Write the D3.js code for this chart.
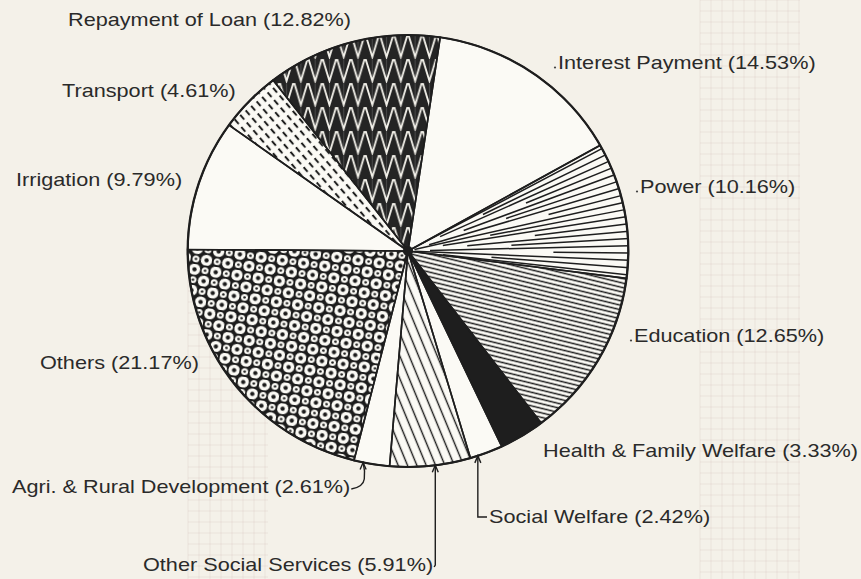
<!DOCTYPE html>
<html>
<head>
<meta charset="utf-8">
<script src="https://cdn.jsdelivr.net/npm/d3@7"></script>
<style>
  body { margin: 0; background: #f4f1e9; }
  svg { display: block; }
  .lbl { font-family: "Liberation Sans", Arial, sans-serif; font-size: 19px; fill: #2a2a2a; }
</style>
</head>
<body>
<svg id="chart" width="861" height="579"></svg>
<script>
// expenditure heads, clockwise from just right of 12 o'clock
const categories = [
  "Interest Payment", "Power", "Education", "Health & Family Welfare",
  "Social Welfare", "Other Social Services", "Agri. & Rural Development",
  "Others", "Irrigation", "Transport", "Repayment of Loan"
];
// share of total (%)
const shares = [14.53, 10.16, 12.65, 3.33, 2.42, 5.91, 2.61, 21.17, 9.79, 4.61, 12.82];

const ink = "#1e1e1e";
const paper = "#fbfaf5";

// which fill each slice gets
const fillFor = {
  "Interest Payment": paper,
  "Power": paper,
  "Education": "url(#hatchEdu)",
  "Health & Family Welfare": ink,
  "Social Welfare": paper,
  "Other Social Services": "url(#hatchOss)",
  "Agri. & Rural Development": paper,
  "Others": "url(#mesh)",
  "Irrigation": paper,
  "Transport": "url(#dashes)",
  "Repayment of Loan": "url(#zigzag)"
};

// label placement: x start, baseline, leading dot, leader (fraction along the slice)
const labelPos = {
  "Repayment of Loan": { x: 68, y: 26 },
  "Interest Payment": { x: 558, y: 69, dot: true },
  "Power": { x: 640, y: 193, dot: true },
  "Education": { x: 634, y: 342, dot: true },
  "Health & Family Welfare": { x: 543, y: 457 },
  "Social Welfare": { x: 489, y: 523, leader: "elbowRight", at: 0.77 },
  "Other Social Services": { x: 143, y: 571, leader: "elbowLeft", at: 0.44 },
  "Agri. & Rural Development": { x: 12, y: 493, leader: "curve", at: 0.74 },
  "Others": { x: 40, y: 369 },
  "Irrigation": { x: 16, y: 186 },
  "Transport": { x: 62, y: 97 }
};

const cx = 408, cy = 251, R = 216, sx = 1.02;
const startDeg = 8.4;

const svg = d3.select("#chart");
const defs = svg.append("defs");

// faint graph paper showing through the page
function ghostGrid(x0, y0, w, h) {
  const gg = svg.append("g").attr("stroke", "rgba(185,150,150,0.16)").attr("stroke-width", 1);
  for (let x = x0; x <= x0 + w; x += 11) gg.append("line").attr("x1", x).attr("x2", x).attr("y1", y0).attr("y2", y0 + h);
  for (let y = y0; y <= y0 + h; y += 11) gg.append("line").attr("x1", x0).attr("x2", x0 + w).attr("y1", y).attr("y2", y);
}
ghostGrid(188, 280, 80, 299);
ghostGrid(700, 0, 100, 579);

// parallel hatching, lines run along the rotated vertical
function hatch(id, spacing, len, angle, sw, dash) {
  const p = defs.append("pattern").attr("id", id)
    .attr("patternUnits", "userSpaceOnUse")
    .attr("width", spacing).attr("height", len)
    .attr("patternTransform", `rotate(${angle})`);
  p.append("rect").attr("width", spacing).attr("height", len).attr("fill", paper);
  p.append("line")
    .attr("x1", spacing / 2).attr("x2", spacing / 2)
    .attr("y1", 0).attr("y2", len)
    .attr("stroke", ink).attr("stroke-width", sw)
    .attr("stroke-dasharray", dash || null);
}
hatch("hatchEdu", 4.4, 10, -76, 1.5);
hatch("hatchOss", 8.5, 10, -22, 1.4);
hatch("dashes", 7, 10, -40, 2, "6,4");

// dark fill with white chevron columns
const zz = defs.append("pattern").attr("id", "zigzag")
  .attr("patternUnits", "userSpaceOnUse").attr("width", 14).attr("height", 24);
zz.append("rect").attr("width", 14).attr("height", 24).attr("fill", "#242424");
zz.append("line").attr("x1", 7).attr("x2", 7).attr("y1", 0).attr("y2", 24)
  .attr("stroke", "#4a4a4a").attr("stroke-width", 1);
zz.append("path").attr("d", "M0.5,0 L7,22 L13.5,0")
  .attr("fill", "none").attr("stroke", "#f3f1ea").attr("stroke-width", 1.8);

// black mesh with white rings round dots
const mesh = defs.append("pattern").attr("id", "mesh")
  .attr("patternUnits", "userSpaceOnUse").attr("width", 21).attr("height", 21)
  .attr("patternTransform", "rotate(8)");
mesh.append("rect").attr("width", 21).attr("height", 21).attr("fill", "#1c1c1c");
[[5.25, 5.25, 5.6], [15.75, 15.75, 5.6], [15.75, 5.25, 3.4], [5.25, 15.75, 3.4]].forEach(([x, y, r]) => {
  mesh.append("circle").attr("cx", x).attr("cy", y).attr("r", r).attr("fill", paper);
  mesh.append("circle").attr("cx", x).attr("cy", y).attr("r", r * 0.38).attr("fill", "#1c1c1c");
});

const pie = d3.pie().sort(null).value(d => d.v)
  .startAngle(startDeg * Math.PI / 180)
  .endAngle(startDeg * Math.PI / 180 + 2 * Math.PI);
const arcs = pie(categories.map((c, i) => ({ c: c, v: shares[i] })));
const arc = d3.arc().innerRadius(0).outerRadius(R);

const g = svg.append("g").attr("transform", `translate(${cx},${cy}) scale(${sx},1)`);

g.selectAll("path.slice")
  .data(arcs)
  .join("path")
  .attr("class", "slice")
  .attr("d", arc)
  .attr("fill", d => fillFor[d.data.c]);

// power: fan of lines out from the centre
const power = arcs.find(d => d.data.c === "Power");
g.append("clipPath").attr("id", "powerClip").append("path").attr("d", arc(power));
const span = power.endAngle - power.startAngle;
const nFan = Math.round(span / (1.9 * Math.PI / 180));
const starts = [0.03, 0.38, 0.16, 0.58, 0.27, 0.47, 0.1, 0.66];
const fan = g.append("g").attr("clip-path", "url(#powerClip)");
d3.range(nFan).forEach(i => {
  const a = power.startAngle + (i + 0.5) * span / nFan;
  const r0 = R * starts[i % starts.length];
  fan.append("line")
    .attr("x1", r0 * Math.sin(a)).attr("y1", -r0 * Math.cos(a))
    .attr("x2", (R + 2) * Math.sin(a)).attr("y2", -(R + 2) * Math.cos(a))
    .attr("stroke", ink).attr("stroke-width", 1.5);
});

// slice edges and rim
g.selectAll("path.edge")
  .data(arcs)
  .join("path")
  .attr("class", "edge")
  .attr("d", arc)
  .attr("fill", "none")
  .attr("stroke", ink)
  .attr("stroke-width", 1.6);
g.append("circle").attr("r", R).attr("fill", "none").attr("stroke", ink).attr("stroke-width", 2.2);
g.append("circle").attr("r", 5).attr("fill", ink);

// point on the rim at a fraction through a slice
function rimPoint(d, t) {
  const a = d.startAngle + t * (d.endAngle - d.startAngle);
  return [cx + sx * R * Math.sin(a), cy - R * Math.cos(a)];
}

const lead = svg.append("g").attr("fill", "none").attr("stroke", ink).attr("stroke-width", 1.4);

arcs.forEach(d => {
  const pos = labelPos[d.data.c];
  const t = svg.append("text")
    .attr("class", "lbl")
    .attr("x", pos.x).attr("y", pos.y)
    .text(`${d.data.c} (${d.data.v.toFixed(2)}%)`);
  // the printed face is wider than Liberation Sans
  const w = t.node().getComputedTextLength();
  t.attr("textLength", w * 1.14).attr("lengthAdjust", "spacingAndGlyphs");

  if (pos.dot) {
    svg.append("circle").attr("cx", pos.x - 3).attr("cy", pos.y - 1.5).attr("r", 1.1).attr("fill", "#444");
  }
  if (pos.leader) {
    const [ax, ay] = rimPoint(d, pos.at);
    let p;
    if (pos.leader === "elbowRight") {
      p = `M${ax},${ay} L${ax},${pos.y - 6} L${pos.x - 2},${pos.y - 6}`;
    } else if (pos.leader === "elbowLeft") {
      const ex = pos.x + w * 1.14 + 1;
      p = `M${ax},${ay} L${ax},${pos.y - 6} L${ex},${pos.y - 4}`;
    } else {
      const ex = pos.x + w * 1.14 + 1;
      p = `M${ex},${pos.y - 4} Q${ex + 12},${pos.y - 6} ${ex + 13},${pos.y - 14} T${ax},${ay}`;
    }
    lead.append("path").attr("d", p);
    // small open arrowhead pointing at the rim
    lead.append("path").attr("d", `M${ax - 3},${ay + 7} L${ax},${ay} L${ax + 3},${ay + 7}`);
  }
});
</script>
</body>
</html>
